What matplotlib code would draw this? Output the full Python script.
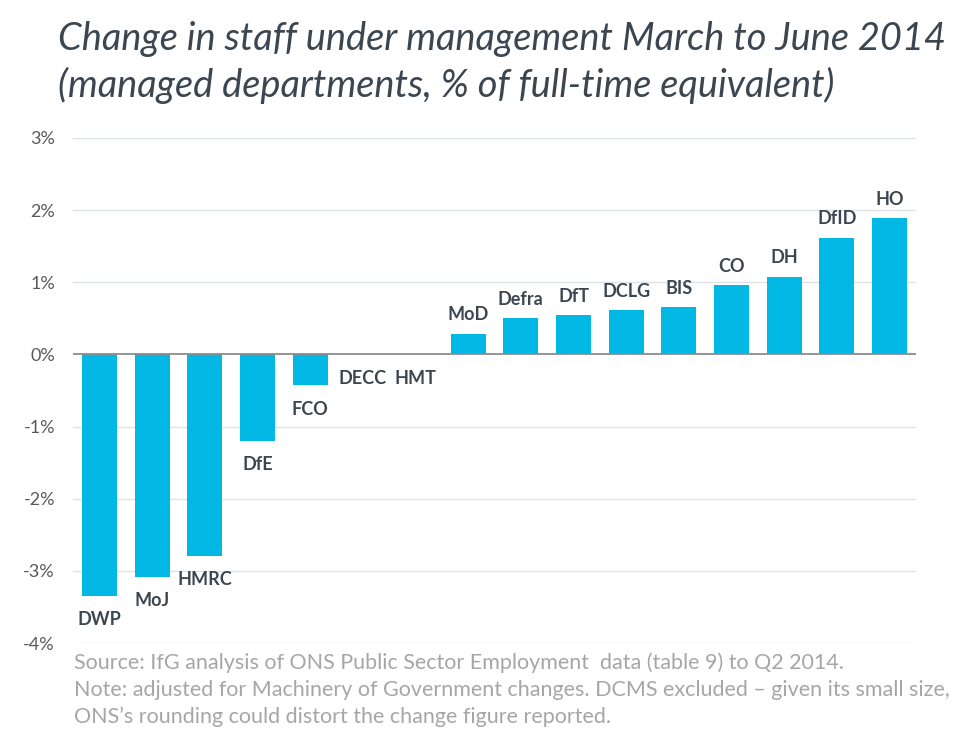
import matplotlib
matplotlib.use('Agg')
import matplotlib.pyplot as plt
from matplotlib.ticker import FixedLocator, FuncFormatter

# department change in staff, March to June 2014 (% of FTE)
depts = ['DWP', 'MoJ', 'HMRC', 'DfE', 'FCO', 'DECC', 'HMT', 'MoD', 'Defra',
         'DfT', 'DCLG', 'BIS', 'CO', 'DH', 'DfID', 'HO']
change = [-3.35, -3.08, -2.79, -1.20, -0.43, 0.0, 0.0, 0.29, 0.50,
          0.55, 0.61, 0.66, 0.96, 1.08, 1.62, 1.89]
yticks = [-4, -3, -2, -1, 0, 1, 2, 3]

title_lines = ['Change in staff under management March to June 2014',
               '(managed departments, % of full-time equivalent)']
notes = ['Source: IfG analysis of ONS Public Sector Employment  data (table 9) to Q2 2014.',
         'Note: adjusted for Machinery of Government changes. DCMS excluded \u2013 given its small size,',
         'ONS\u2019s rounding could distort the change figure reported.']

bar_col = '#00b8e3'
dark = '#3b4650'
tick_col = '#595959'
note_col = '#a6a6a6'

W, H = 973, 749
fig = plt.figure(figsize=(W / 100, H / 100), dpi=100)
ax = fig.add_axes([73 / W, 1 - 643 / H, (916 - 73) / W, (643 - 138) / H])

x = list(range(len(depts)))
ax.bar(x, change, width=0.665, color=bar_col, zorder=3)

ax.set_xlim(-0.5, len(depts) - 0.5)
ax.set_ylim(-4, 3)
ax.yaxis.set_major_locator(FixedLocator(yticks))
ax.yaxis.set_major_formatter(FuncFormatter(lambda v, p: f'{v:.0f}%'))
ax.set_xticks([])
for s in ax.spines.values():
    s.set_visible(False)
ax.tick_params(axis='y', length=0, pad=13, labelsize=13, labelcolor=tick_col)
for lab in ax.get_yticklabels():
    lab.set_family('Lato')

for t in yticks:
    if t != 0:
        ax.axhline(t, color='#dde2e2', lw=1.0, zorder=1)
ax.axhline(0, color='#8c8c8c', lw=1.3, zorder=4)

for i, (name, v) in enumerate(zip(depts, change)):
    off = 9.5 if v > 0 else -21
    ax.annotate(name, (i, v), xytext=(0, off), textcoords='offset points',
                ha='center', va='baseline', fontsize=13, fontweight='bold',
                family='Lato', color=dark)

fig.canvas.draw()
rend = fig.canvas.get_renderer()


def fit_text(xpx, ypx, s, target_w, size, **kw):
    t = fig.text(xpx / W, 1 - ypx / H, s, fontsize=size, va='baseline', ha='left', **kw)
    w = t.get_window_extent(renderer=rend).width
    t.set_fontsize(size * target_w / w)
    return t


t1 = fit_text(58, 50, title_lines[0], 889, 26, family='Lato', style='italic',
              fontweight='normal', color=dark)
fig.text(58 / W, 1 - 97 / H, title_lines[1], fontsize=t1.get_fontsize(),
         va='baseline', ha='left', family='Lato', style='italic',
         fontweight='normal', color=dark)

n2 = fit_text(74, 696, notes[1], 874, 13, family='Lato', color=note_col)
for ypx, s in [(669, notes[0]), (723, notes[2])]:
    fig.text(74 / W, 1 - ypx / H, s, fontsize=n2.get_fontsize(), va='baseline',
             ha='left', family='Lato', color=note_col)

fig.savefig('out.png', dpi=100, facecolor='white')
